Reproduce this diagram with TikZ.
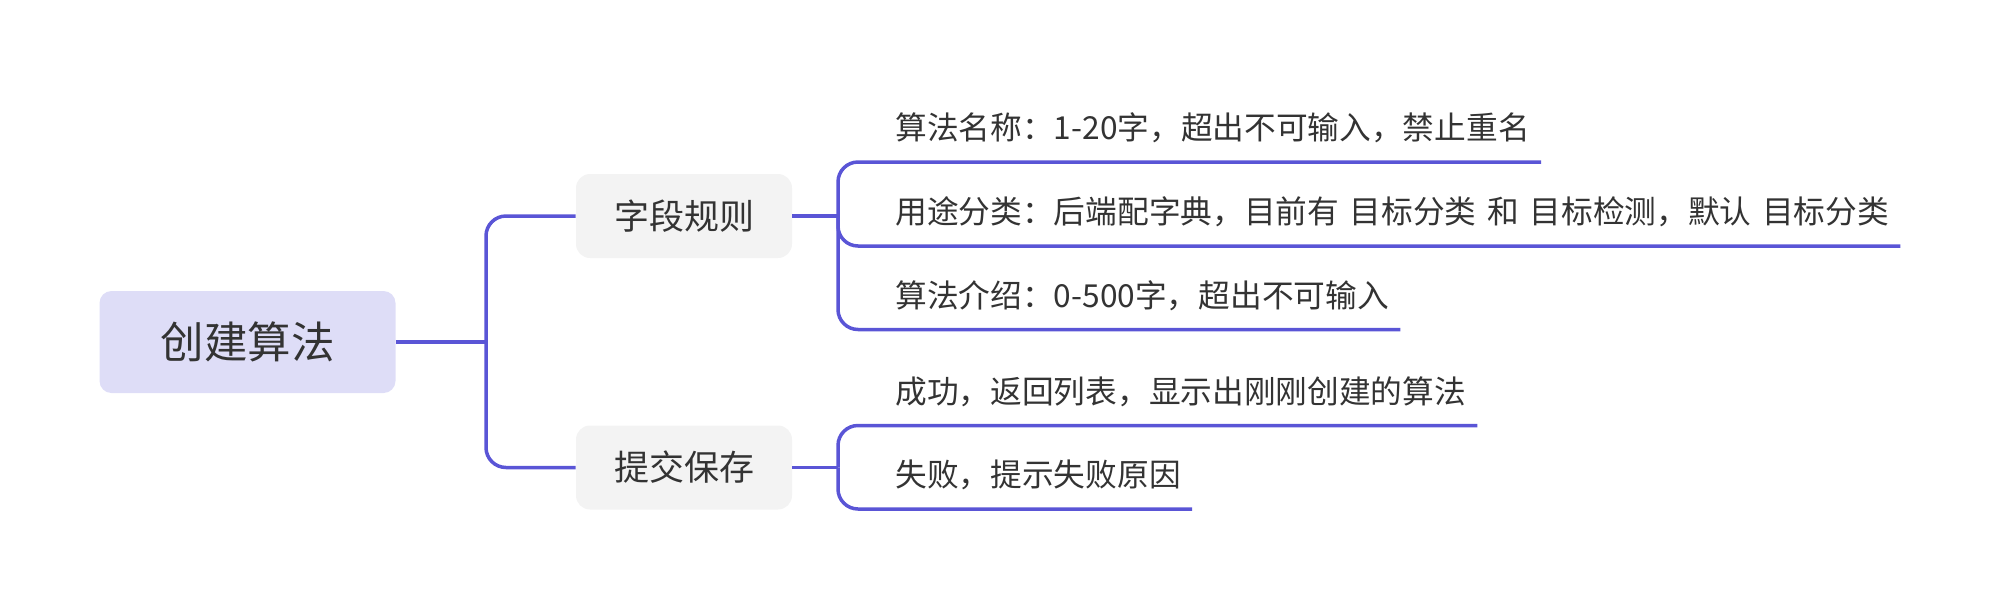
\documentclass[tikz,border=0pt]{standalone}
\usepackage{fontspec}
\setmainfont[WordSpace=1.5]{Noto Sans CJK SC}
\definecolor{mapline}{HTML}{5A55D6}
\definecolor{rootfill}{HTML}{DEDDF7}
\definecolor{topicfill}{HTML}{F3F3F3}
\definecolor{maptext}{HTML}{333333}

\begin{document}
\begin{tikzpicture}[x=0.5pt,y=-0.5pt,
    root/.style={fill=rootfill,rounded corners=6pt,minimum width=148pt,minimum height=51pt,text=maptext,font=\fontsize{21.75}{26}\selectfont},
    topic/.style={fill=topicfill,rounded corners=7pt,minimum width=108pt,minimum height=42pt,text=maptext,font=\fontsize{17.5}{21}\selectfont},
    leaf/.style={anchor=west,inner sep=0pt,text height=14pt,text depth=2pt,text=maptext,font=\fontsize{15.85}{19}\selectfont},
    link/.style={draw=mapline,line width=1.75pt,rounded corners=10pt}]
    \useasboundingbox (0,0) rectangle (1999,612);
    \node[root](algo) at (247.5,342){创建算法};
    \node[topic](rule) at (684,216){字段规则};
    \node[topic](save) at (684,467.5){提交保存};
    \node[leaf](name) at (895,127.5){算法名称：1-20字，超出不可输入，禁止重名};
    \node[leaf](usage) at (895,211.5){用途分类：后端配字典，目前有 目标分类 和 目标检测，默认 目标分类};
    \node[leaf](intro) at (895,295){算法介绍：0-500字，超出不可输入};
    \node[leaf](ok) at (895,391){成功，返回列表，显示出刚刚创建的算法};
    \node[leaf](fail) at (895,474.5){失败，提示失败原因};
    \coordinate (s1) at (486,342);
    \coordinate (s2) at (838,216);
    \coordinate (s3) at (838,467.5);
    \draw[link](algo.east)--(s1);
    \draw[link](s1)|-(rule.west);
    \draw[link](s1)|-(save.west);
    \draw[link](rule.east)--(s2);
    \draw[link](s2)|-([xshift=5.5pt,yshift=-17.25pt]name.east);
    \draw[link](s2)|-([xshift=5.5pt,yshift=-17.25pt]usage.east);
    \draw[link](s2)|-([xshift=5.5pt,yshift=-17.25pt]intro.east);
    \draw[link](save.east)--(s3);
    \draw[link](s3)|-([xshift=5.5pt,yshift=-17.25pt]ok.east);
    \draw[link](s3)|-([xshift=5.5pt,yshift=-17.25pt]fail.east);
\end{tikzpicture}
\end{document}
